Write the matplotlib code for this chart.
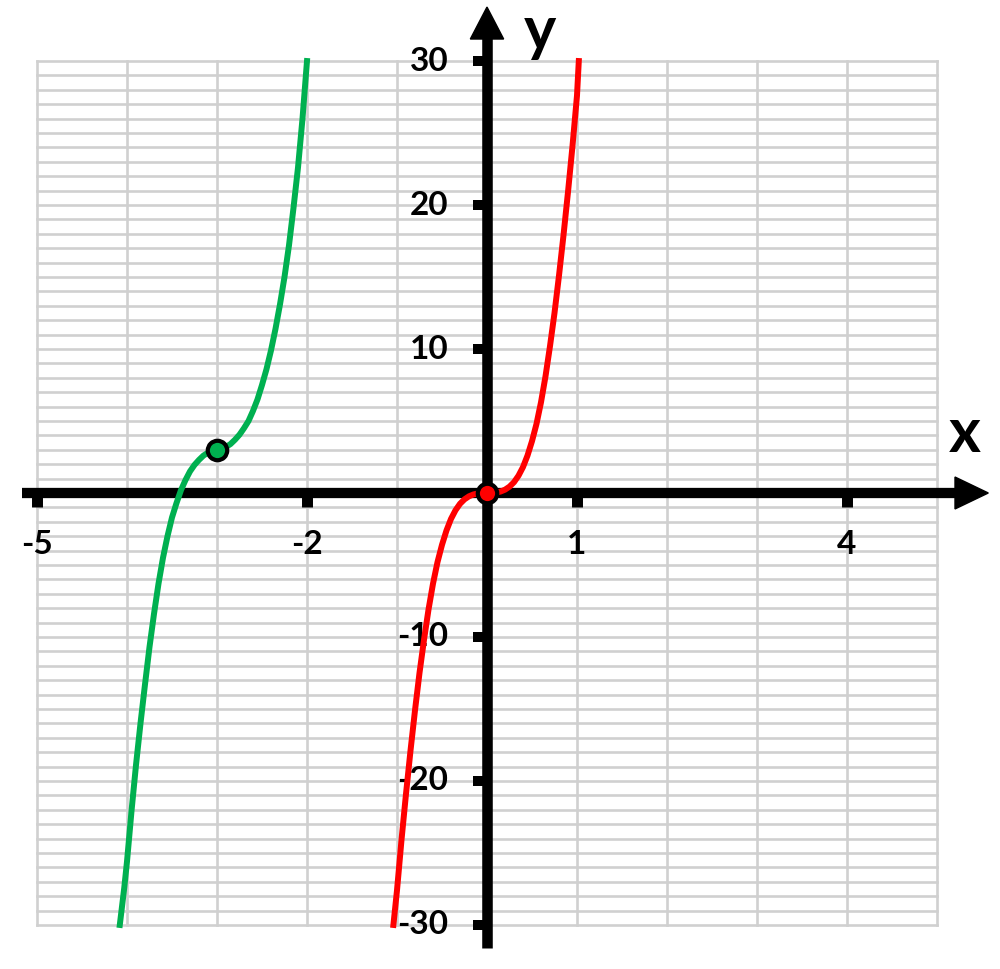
import numpy as np
import matplotlib
matplotlib.use('Agg')
import matplotlib.pyplot as plt

# red curve
red_x = [-1.04, -1.0, -0.95, -0.9, -0.85, -0.8, -0.75, -0.7, -0.65, -0.6, -0.55, -0.5,
         -0.45, -0.4, -0.35, -0.3, -0.25, -0.2, -0.15, -0.1, -0.05, 0.0,
         0.05, 0.1, 0.15, 0.2, 0.25, 0.3, 0.35, 0.4, 0.45, 0.5, 0.55, 0.6,
         0.65, 0.7, 0.75, 0.8, 0.85, 0.9, 0.95, 1.0, 1.02]
red_y = [-30.0, -27.6, -24.1, -20.9, -17.9, -15.1, -12.5, -10.2, -8.1, -6.3, -4.8, -3.6,
         -2.6, -1.8, -1.2, -0.75, -0.44, -0.23, -0.1, -0.03, -0.005, 0.0,
         0.005, 0.03, 0.1, 0.23, 0.44, 0.75, 1.2, 1.8, 2.6, 3.6, 4.8, 6.3,
         8.1, 10.2, 12.5, 15.1, 17.9, 20.9, 24.1, 27.6, 30.0]

# green curve
green_x = [-4.08, -4.03, -4.0, -3.95, -3.9, -3.85, -3.8, -3.75, -3.7, -3.65, -3.6, -3.55,
           -3.5, -3.45, -3.4, -3.35, -3.3, -3.25, -3.2, -3.15, -3.1, -3.05, -3.0,
           -2.95, -2.9, -2.85, -2.8, -2.75, -2.7, -2.65, -2.6, -2.55, -2.5, -2.45,
           -2.4, -2.35, -2.3, -2.25, -2.2, -2.15, -2.1, -2.05, -2.0]
green_y = [-30.0, -27.4, -25.6, -22.1, -18.9, -16.0, -13.3, -10.7, -8.4, -6.3, -4.5, -3.0,
           -1.7, -0.7, 0.2, 0.9, 1.5, 1.95, 2.3, 2.6, 2.8, 2.95, 3.0,
           3.05, 3.2, 3.4, 3.7, 4.05, 4.5, 5.0, 5.7, 6.5, 7.5, 8.6,
           9.9, 11.4, 13.1, 15.0, 17.2, 19.8, 22.6, 26.0, 30.0]

points_x = [-3, 0]
points_y = [3, 0]
point_colors = ['#00b050', '#ff0000']

x_ticks = [-5, -2, 1, 4]
y_ticks = [30, 20, 10, -10, -20, -30]

fig = plt.figure(figsize=(10, 9.69), dpi=100)
ax = fig.add_axes([0, 0, 1, 1])
ax.set_xlim(-5.411, 5.700)
ax.set_ylim(-33.06, 34.24)
ax.axis('off')

grid_c = '#d0d0d0'
for gx in range(-5, 6):
    ax.plot([gx, gx], [-30, 30], color=grid_c, lw=1.9, zorder=1)
for gy in range(-30, 31):
    ax.plot([-5, 5], [gy, gy], color=grid_c, lw=1.9, zorder=1)

# axes with arrows
ax.plot([-5.17, 5.22], [0, 0], color='black', lw=7.4, solid_capstyle='butt', zorder=3)
ax.fill([5.2, 5.57, 5.2], [1.11, 0, -1.11], color='black', zorder=3)
ax.plot([0, 0], [-31.6, 31.6], color='black', lw=7.6, solid_capstyle='butt', zorder=3)
ax.fill([-0.185, 0, 0.185], [31.53, 33.75, 31.53], color='black', zorder=3)

font = dict(family=['Lato', 'DejaVu Sans'], fontweight='bold')
for t in x_ticks:
    ax.plot([t, t], [0, -0.97], color='black', lw=7.9, solid_capstyle='butt', zorder=3)
    ax.text(t, -3.6, str(t), ha='center', va='center', fontsize=24, zorder=4, **font)
for t in y_ticks:
    ax.plot([0, -0.155], [t, t], color='black', lw=7.2, solid_capstyle='butt', zorder=3)
    ax.text(-0.43, t, str(t), ha='right', va='center', fontsize=24, zorder=4, **font)

ax.text(5.31, 2.85, 'x', ha='center', va='baseline', fontsize=44, zorder=4, **font)
ax.text(0.59, 30.76, 'y', ha='center', va='baseline', fontsize=44, zorder=4, **font)

ax.plot(green_x, green_y, color='#00b050', lw=4.3, zorder=5)
ax.plot(red_x, red_y, color='#ff0000', lw=4.3, zorder=5)
for px, py, pc in zip(points_x, points_y, point_colors):
    ax.plot(px, py, 'o', ms=14, mfc=pc, mec='black', mew=3, zorder=6)

fig.savefig('out.png', dpi=100)
